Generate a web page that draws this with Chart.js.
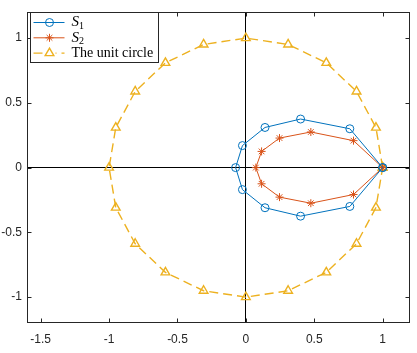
<!DOCTYPE html>
<html lang="en">
<head>
<meta charset="UTF-8">
<title>Unit circle</title>
<script src="https://cdn.jsdelivr.net/npm/chart.js"></script>
<style>
  html, body { margin: 0; padding: 0; background: #fff; }
  .chart-box { width: 417px; height: 353px; position: relative; }
</style>
</head>
<body>
<div class="chart-box"><canvas id="circleChart"></canvas></div>
<script>
// values
const s1X = [1, 0.76, 0.40, 0.14, -0.025, -0.075, -0.025, 0.14, 0.40, 0.76, 1];
const s1Y = [0, 0.30, 0.375, 0.31, 0.17, 0, -0.17, -0.31, -0.375, -0.30, 0];
const s2X = [1, 0.787, 0.475, 0.246, 0.115, 0.073, 0.115, 0.246, 0.475, 0.787, 1];
const s2Y = [0, 0.208, 0.275, 0.228, 0.125, 0, -0.125, -0.228, -0.275, -0.208, 0];
const circleX = [1, 0.951, 0.809, 0.588, 0.309, 0, -0.309, -0.588, -0.809, -0.951, -1,
                 -0.951, -0.809, -0.588, -0.309, 0, 0.309, 0.588, 0.809, 0.951, 1];
const circleY = [0, 0.309, 0.588, 0.809, 0.951, 1, 0.951, 0.809, 0.588, 0.309, 0,
                 -0.309, -0.588, -0.809, -0.951, -1, -0.951, -0.809, -0.588, -0.309, 0];
const xTicks = [-1.5, -1, -0.5, 0, 0.5, 1];
const yTicks = [-1, -0.5, 0, 0.5, 1];
const xLimits = [-1.6, 1.2];
const yLimits = [-1.2, 1.2];
const legendNames = [['S', '1'], ['S', '2'], ['The unit circle', '']];

const axisColor = '#262626';

function toPoints(xs, ys) {
  return xs.map((x, i) => ({ x: x, y: ys[i] }));
}

function fmt(v) {
  return String(v);
}

// MATLAB-like box, inward ticks and legend
const matlabAxes = {
  id: 'matlabAxes',
  afterDatasetsDraw(chart) {
    const ctx = chart.ctx;
    const a = chart.chartArea;
    const xs = chart.scales.x, ys = chart.scales.y;
    const L = Math.round(a.left) + 0.5, R = Math.round(a.right) - 0.5;
    const T = Math.round(a.top) + 0.5, B = Math.round(a.bottom) - 0.5;
    ctx.save();
    ctx.strokeStyle = axisColor;
    ctx.lineWidth = 1;
    ctx.strokeRect(L, T, R - L, B - T);
    ctx.beginPath();
    xTicks.forEach(v => {
      const px = Math.round(xs.getPixelForValue(v)) + 0.5;
      ctx.moveTo(px, B); ctx.lineTo(px, B - 4);
      ctx.moveTo(px, T); ctx.lineTo(px, T + 4);
    });
    yTicks.forEach(v => {
      const py = Math.round(ys.getPixelForValue(v)) + 0.5;
      ctx.moveTo(L, py); ctx.lineTo(L + 4, py);
      ctx.moveTo(R, py); ctx.lineTo(R - 4, py);
    });
    ctx.stroke();

    // legend
    const lx = L + 3, ly = T, lw = 128, lh = 50;
    ctx.fillStyle = '#fff';
    ctx.fillRect(lx, ly, lw, lh);
    ctx.strokeRect(lx, ly, lw, lh);
    chart.data.datasets.forEach((ds, i) => {
      const cy = ly + 10 + i * 15.3;
      ctx.strokeStyle = ds.borderColor;
      ctx.lineWidth = ds.borderWidth;
      ctx.setLineDash(ds.borderDash || []);
      ctx.beginPath();
      ctx.moveTo(lx + 3, cy); ctx.lineTo(lx + 34, cy);
      ctx.stroke();
      ctx.setLineDash([]);
      if (ds.borderDash) {
        ctx.fillStyle = '#fff';
        ctx.fillRect(lx + 13, cy - 6, 12, 12);
      }
      ctx.fillStyle = 'rgba(0,0,0,0)';
      Chart.helpers.drawPoint(ctx, {
        pointStyle: ds.pointStyle, radius: ds.pointRadius, rotation: 0, borderWidth: ds.pointBorderWidth
      }, lx + 19, cy);
      const name = legendNames[i];
      ctx.fillStyle = '#000';
      ctx.textBaseline = 'middle';
      ctx.textAlign = 'left';
      if (name[1]) {
        ctx.font = 'italic 15px "Liberation Serif", serif';
        ctx.fillText(name[0], lx + 41, cy);
        const w = ctx.measureText(name[0]).width;
        ctx.font = '10px "Liberation Serif", serif';
        ctx.fillText(name[1], lx + 41 + w, cy + 4);
      } else {
        ctx.font = '14px "Liberation Serif", serif';
        ctx.fillText(name[0], lx + 41, cy);
      }
    });
    ctx.restore();
  }
};

const zeroGrid = {
  color: c => (c.tick && c.tick.value === 0) ? '#000' : 'rgba(0,0,0,0)',
  lineWidth: 1,
  drawTicks: false
};

new Chart(document.getElementById('circleChart'), {
  type: 'scatter',
  data: {
    datasets: [{
      label: 'S1',
      data: toPoints(s1X, s1Y),
      showLine: true,
      borderColor: '#0072BD',
      backgroundColor: 'rgba(0,0,0,0)',
      borderWidth: 1,
      pointStyle: 'circle',
      pointRadius: 4,
      pointBorderWidth: 1
    }, {
      label: 'S2',
      data: toPoints(s2X, s2Y),
      showLine: true,
      borderColor: '#D95319',
      backgroundColor: 'rgba(0,0,0,0)',
      borderWidth: 1,
      pointStyle: 'star',
      pointRadius: 4,
      pointBorderWidth: 1
    }, {
      label: 'The unit circle',
      data: toPoints(circleX, circleY),
      showLine: true,
      borderColor: '#EDB120',
      backgroundColor: 'rgba(0,0,0,0)',
      borderWidth: 1.4,
      borderDash: [9, 5],
      pointStyle: 'triangle',
      pointRadius: 5,
      pointBorderWidth: 1.4
    }]
  },
  options: {
    responsive: true,
    maintainAspectRatio: false,
    animation: false,
    layout: { padding: { top: 11, right: 7, left: 0, bottom: 0 } },
    plugins: {
      legend: { display: false },
      tooltip: { enabled: false }
    },
    scales: {
      x: {
        type: 'linear',
        min: xLimits[0],
        max: xLimits[1],
        grid: zeroGrid,
        border: { display: false },
        afterBuildTicks: s => { s.ticks = xTicks.map(v => ({ value: v })); },
        afterFit: s => { s.height = 30; },
        ticks: {
          padding: 9,
          color: axisColor,
          font: { family: 'Liberation Sans, Arial, sans-serif', size: 12 },
          callback: v => fmt(v)
        }
      },
      y: {
        type: 'linear',
        min: yLimits[0],
        max: yLimits[1],
        grid: zeroGrid,
        border: { display: false },
        afterBuildTicks: s => { s.ticks = yTicks.map(v => ({ value: v })); },
        afterFit: s => { s.width = 27; },
        ticks: {
          padding: 5,
          color: axisColor,
          font: { family: 'Liberation Sans, Arial, sans-serif', size: 12 },
          callback: v => fmt(v)
        }
      }
    }
  },
  plugins: [matlabAxes]
});
</script>
</body>
</html>
